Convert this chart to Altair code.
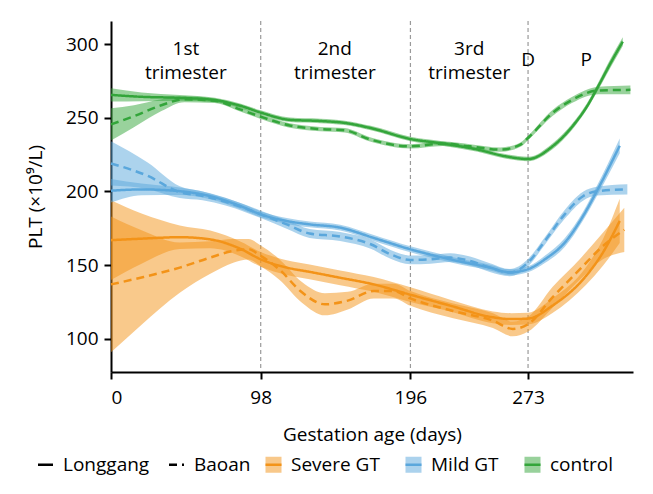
import altair as alt
import pandas as pd

groups = ["Severe GT", "Mild GT", "control"]
group_colors = ["#F39318", "#5AA7DC", "#33A53A"]
cohorts = ["Longgang", "Baoan"]
cohort_dash = [[1, 0], [8, 5]]

x_ticks = [0, 98, 196, 273]
y_ticks = [100, 150, 200, 250, 300]
rule_days = [98, 196, 273]

# Severe GT
sev_lg_day = [0, 20, 45, 65, 85, 98, 115, 130, 150, 172, 196, 222, 250, 262, 273, 289, 311, 322, 333]
sev_lg_val = [167, 168, 169, 167.5, 161, 154, 148.4, 145.5, 141.5, 137, 130, 122.6, 114.7, 113.5, 113.8, 122.6, 142.8, 158.6, 180]
sev_lg_half = [27, 17, 8, 6, 5, 5, 5, 5, 5, 5, 5, 4, 4, 4, 4, 5, 6, 9, 15]

sev_ba_day = [0, 20, 45, 65, 80, 90, 98, 110, 125, 140, 155, 172, 185, 196, 224, 250, 263, 273, 289, 307, 322, 336]
sev_ba_val = [137, 141.7, 148.4, 155.2, 159.7, 160.8, 156.3, 147.3, 131.6, 123.5, 126, 132.5, 132.5, 127.5, 119, 112.4, 106.8, 110, 128.2, 147.3, 163, 174]
sev_ba_half = [46, 32, 17, 11, 8, 7, 7, 7, 7, 7.5, 6, 5, 5, 5, 5, 5, 5, 5, 7, 7, 9, 15]

# Mild GT
mild_lg_day = [0, 20, 45, 65, 85, 98, 115, 130, 150, 172, 196, 222, 248, 261, 273, 284, 297, 309, 318, 333]
mild_lg_val = [200.5, 201.4, 200.2, 196.8, 190, 184.5, 180, 177.7, 175.5, 168.5, 160.8, 154, 148.4, 145.2, 147.3, 154, 165.3, 183.3, 200.2, 231]
mild_lg_half = [8, 4, 2.5, 2, 2, 2, 2, 2, 2, 2, 2, 2, 2, 2, 2, 2.5, 3, 3, 3.5, 5]

mild_ba_day = [0, 24, 45, 60, 75, 88, 98, 115, 130, 150, 170, 183, 196, 209, 222, 235, 248, 261, 273, 284, 297, 309, 318, 338]
mild_ba_val = [219, 210.6, 199.5, 197, 193, 188.5, 184.5, 177.7, 171.5, 169.5, 164.2, 157.4, 153.6, 154, 155.2, 152.9, 148.4, 145, 151.8, 166.4, 184.5, 196.8, 200.2, 201.4]
mild_ba_half = [15, 9, 4, 3, 2.5, 2.5, 2.5, 3, 3, 3, 3, 3, 3, 3, 3, 3, 3, 2.5, 2.5, 2.5, 3, 3, 3, 3.5]

# control
ctl_lg_day = [0, 20, 45, 68, 85, 98, 117, 137, 153, 170, 196, 218, 240, 258, 273, 289, 302, 311.5, 320, 327, 335]
ctl_lg_val = [265.5, 264.2, 263.5, 262, 258, 253.5, 248.6, 247.8, 246.5, 243, 235.6, 232.4, 228.4, 223.9, 222, 230.6, 244.1, 257.6, 273.4, 287, 301.6]
ctl_lg_half = [4.5, 3, 2, 1.5, 1.5, 1.5, 1.5, 1.5, 1.5, 1.5, 1.5, 1.5, 1.5, 1.5, 1.5, 2, 2, 2, 2.5, 3, 3]

ctl_ba_day = [0, 15, 33, 48, 68, 85, 98, 117, 137, 153, 169, 196, 217, 235, 255, 268, 273, 289, 302, 319, 340]
ctl_ba_val = [245.5, 251, 258.5, 262.5, 261.5, 255.5, 250.7, 244.8, 242.3, 241.5, 235.5, 230.6, 232.4, 230.6, 228.4, 231.8, 236.3, 253.2, 262.2, 268.5, 268.9]
ctl_ba_half = [11, 7.5, 4, 2, 1.5, 1.5, 1.5, 1.5, 1.5, 1.5, 1.5, 1.5, 1.5, 1.5, 1.5, 1.5, 1.5, 2, 2, 2.5, 3]

ann_text = ["1st", "trimester", "2nd", "trimester", "3rd", "trimester", "D", "P"]
ann_day = [49, 49, 146.5, 146.5, 234.5, 234.5, 273, 311]
ann_val = [296.6, 280.3, 296.6, 280.3, 296.6, 280.3, 289.2, 289.2]

series = [
    ("Severe GT", "Longgang", sev_lg_day, sev_lg_val, sev_lg_half),
    ("Severe GT", "Baoan", sev_ba_day, sev_ba_val, sev_ba_half),
    ("Mild GT", "Longgang", mild_lg_day, mild_lg_val, mild_lg_half),
    ("Mild GT", "Baoan", mild_ba_day, mild_ba_val, mild_ba_half),
    ("control", "Longgang", ctl_lg_day, ctl_lg_val, ctl_lg_half),
    ("control", "Baoan", ctl_ba_day, ctl_ba_val, ctl_ba_half),
]
rows = []
for g, c, d, v, h in series:
    for di, vi, hi in zip(d, v, h):
        rows.append(dict(group=g, cohort=c, series=g + "|" + c,
                         day=di, val=vi, lo=vi - hi, hi=vi + hi))
df = pd.DataFrame(rows)

FONT = "Open Sans"
FS = 19
xs = alt.Scale(domain=[0, 341.7], nice=False, zero=False)
ys = alt.Scale(domain=[77.6, 315.6], nice=False, zero=False)
x_axis = alt.Axis(values=x_ticks, title="Gestation age (days)", titlePadding=18, labelPadding=9)
y_axis = alt.Axis(values=y_ticks, title="PLT (×10⁹/L)", titlePadding=20, labelPadding=6)

LEG_Y = 434
sw = dict(title=None, orient="none", direction="horizontal", legendY=LEG_Y, legendX=153,
          symbolSize=256, symbolStrokeWidth=2.5, columnPadding=20, labelOffset=8)

rules = alt.Chart(pd.DataFrame({"day": rule_days})).mark_rule(
    color="#9a9a9a", strokeDash=[4, 3], strokeWidth=1.2
).encode(x=alt.X("day:Q", scale=xs, axis=x_axis))

areas = alt.Chart(df).mark_area(fillOpacity=0.5, interpolate="monotone").encode(
    x=alt.X("day:Q", scale=xs, axis=x_axis),
    y=alt.Y("lo:Q", scale=ys, axis=y_axis),
    y2="hi:Q",
    fill=alt.Fill("group:N", sort=groups, scale=alt.Scale(range=group_colors),
                  legend=alt.Legend(symbolType="square", symbolOpacity=0.5,
                                    symbolStrokeColor="transparent", **sw)),
    detail="series:N",
)

lines = alt.Chart(df).mark_line(strokeWidth=2.5, interpolate="monotone").encode(
    x=alt.X("day:Q", scale=xs, axis=x_axis),
    y=alt.Y("val:Q", scale=ys, axis=y_axis),
    stroke=alt.Stroke("group:N", scale=alt.Scale(domain=groups, range=group_colors),
                      legend=alt.Legend(symbolType="stroke", labelOpacity=0, **sw)),
    strokeDash=alt.StrokeDash("cohort:N", scale=alt.Scale(domain=cohorts, range=cohort_dash),
                              legend=alt.Legend(title=None, orient="none", direction="horizontal",
                                                legendX=-75, legendY=LEG_Y, symbolType="stroke",
                                                symbolSize=225, symbolStrokeWidth=2.5,
                                                symbolStrokeColor="black",
                                                columnPadding=14, labelOffset=8)),
    detail="series:N",
)

ann = alt.Chart(pd.DataFrame({"t": ann_text, "day": ann_day, "val": ann_val})).mark_text(
    font=FONT, fontSize=FS, color="black"
).encode(
    x=alt.X("day:Q", scale=xs, axis=x_axis),
    y=alt.Y("val:Q", scale=ys, axis=y_axis),
    text="t:N",
)

chart = alt.layer(rules, areas, lines, ann).properties(
    width=522, height=351,
    autosize=alt.AutoSizeParams(type="none"),
    padding={"left": 103, "top": 13, "right": 12, "bottom": 114},
).configure(font=FONT).configure_view(stroke=None).configure_axis(
    domainColor="black", domainWidth=2, tickColor="black", tickWidth=2, tickSize=7,
    labelFontSize=FS, titleFontSize=FS, labelColor="black", titleColor="black",
    labelFont=FONT, titleFont=FONT, titleFontWeight="normal", grid=False,
).configure_legend(
    labelFontSize=FS, labelFont=FONT, labelColor="black"
)

chart.save("out.html", embed_options={"renderer": "svg", "actions": False})
